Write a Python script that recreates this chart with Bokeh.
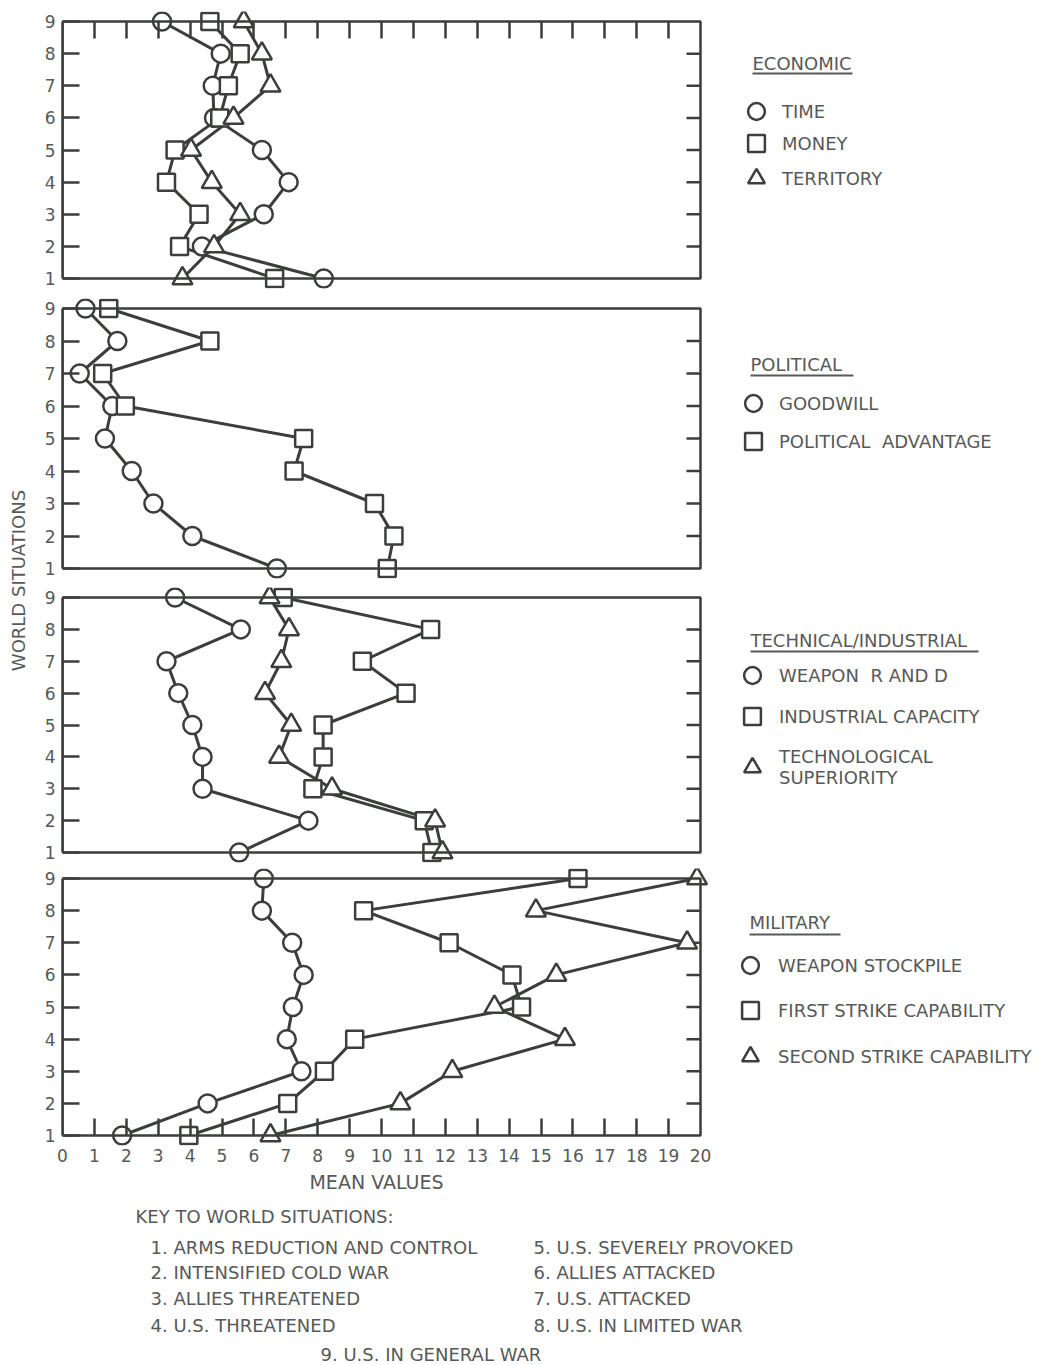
import math
from bokeh.plotting import figure
from bokeh.models import (Range1d, LinearAxis, FixedTicker, BoxAnnotation, Label,
                          Legend, LegendItem, Arrow)
from bokeh.layouts import row, column
from bokeh.embed import file_html
from bokeh.resources import INLINE

# ---------------- data (rows = world situations 1..9) ----------------
situations = [1, 2, 3, 4, 5, 6, 7, 8, 9]
x_ticks = list(range(0, 21))

econ_time = [8.19, 4.37, 6.31, 7.09, 6.25, 4.75, 4.71, 4.96, 3.12]
econ_money = [6.65, 3.67, 4.28, 3.26, 3.53, 4.93, 5.20, 5.57, 4.62]
econ_territory = [3.76, 4.75, 5.57, 4.68, 4.03, 5.36, 6.52, 6.25, 5.68]

pol_goodwill = [6.72, 4.07, 2.85, 2.17, 1.33, 1.56, 0.54, 1.72, 0.72]
pol_advantage = [10.18, 10.39, 9.78, 7.26, 7.56, 1.97, 1.26, 4.62, 1.45]

tech_weapon_rd = [5.54, 7.71, 4.39, 4.39, 4.07, 3.63, 3.26, 5.59, 3.53]
tech_industrial = [11.58, 11.34, 7.85, 8.17, 8.17, 10.77, 9.40, 11.54, 6.92]
tech_superiority = [11.91, 11.68, 8.45, 6.79, 7.17, 6.35, 6.86, 7.10, 6.49]

mil_stockpile = [1.87, 4.55, 7.49, 7.03, 7.22, 7.56, 7.20, 6.25, 6.31]
mil_first_strike = [3.96, 7.06, 8.21, 9.16, 14.39, 14.09, 12.12, 9.44, 16.16]
mil_second_strike = [6.52, 10.59, 12.22, 15.75, 13.54, 15.48, 19.58, 14.84, 19.89]

group_titles = ["ECONOMIC", "POLITICAL", "TECHNICAL/INDUSTRIAL", "MILITARY"]
econ_labels = ["TIME", "MONEY", "TERRITORY"]
pol_labels = ["GOODWILL", "POLITICAL  ADVANTAGE"]
tech_labels = ["WEAPON  R AND D", "INDUSTRIAL CAPACITY", "TECHNOLOGICAL\nSUPERIORITY"]
mil_labels = ["WEAPON STOCKPILE", "FIRST STRIKE CAPABILITY", "SECOND STRIKE CAPABILITY"]

key_title = "KEY TO WORLD SITUATIONS:"
situation_key = [
    "1. ARMS REDUCTION AND CONTROL",
    "2. INTENSIFIED COLD WAR",
    "3. ALLIES THREATENED",
    "4. U.S. THREATENED",
    "5. U.S. SEVERELY PROVOKED",
    "6. ALLIES ATTACKED",
    "7. U.S. ATTACKED",
    "8. U.S. IN LIMITED WAR",
    "9. U.S. IN GENERAL WAR",
]
x_title = "MEAN VALUES"
y_title = "WORLD SITUATIONS"

# ---------------- style / layout ----------------
INK = "#3b3e3b"
TXT = "#575957"
FONT = "DejaVu Sans"
LABEL_W = 30            # left strip holding the shared y title
FL = 62                 # page x of value 0 (frames of the column are aligned here)
PPX = 31.9              # px per unit on x
PAD = 10                # px padding above/below the drawn box
PAGE_R = 1038
PAGE_B = 1365
FRAME_W = PAGE_R - FL
XEND = FRAME_W / PPX
BORDER_L = FL - LABEL_W
FIG_W = BORDER_L + FRAME_W
RIGHT_TICK = 14 / PPX          # inward tick length at value 20, in value units
MARKERS = ["circle", "square", "triangle"]
MSIZE = {"circle": 18, "square": 17, "triangle": 20}
GW = 42

panels = [
    dict(series=[econ_time, econ_money, econ_territory], labels=econ_labels,
         title=group_titles[0], page_top=21, data_h=257, btop=11, bbot=5,
         title_pos=(752, 63, 73, 852),
         items=[(756, 111, 782), (756, 143, 782), (756, 178, 782)]),
    dict(series=[pol_goodwill, pol_advantage], labels=pol_labels,
         title=group_titles[1], page_top=308, data_h=260, btop=5, bbot=4,
         title_pos=(750, 364, 375, 853),
         items=[(753, 403, 779), (753, 441, 779)]),
    dict(series=[tech_weapon_rd, tech_industrial, tech_superiority], labels=tech_labels,
         title=group_titles[2], page_top=597, data_h=255, btop=5, bbot=3,
         title_pos=(750, 640, 651, 978),
         items=[(752, 675, 779), (752, 716, 779), (752, 767, 779)]),
    dict(series=[mil_stockpile, mil_first_strike, mil_second_strike], labels=mil_labels,
         title=group_titles[3], page_top=878, data_h=257, btop=3, bbot=25,
         title_pos=(749, 922, 934, 840),
         items=[(750, 965, 778), (750, 1010, 778), (750, 1056, 778)]),
]

figs = []
for k, pn in enumerate(panels):
    ppy = pn["data_h"] / 8.0
    padu = PAD / ppy
    frame_h = pn["data_h"] + 2 * PAD
    frame_top = pn["page_top"] - PAD
    frame_bot = frame_top + frame_h
    p = figure(frame_width=FRAME_W, frame_height=frame_h,
               x_range=Range1d(0, XEND), y_range=Range1d(1 - padu, 9 + padu),
               toolbar_location=None, output_backend="svg",
               x_axis_location=None, y_axis_location=None,
               min_border_left=BORDER_L, min_border_right=0,
               min_border_top=pn["btop"], min_border_bottom=pn["bbot"],
               outline_line_color=None, background_fill_color="white")
    p.grid.visible = False

    # drawn box
    p.add_layout(BoxAnnotation(left=0, right=20, bottom=1, top=9, fill_color=None,
                               line_color=INK, line_alpha=1.0, line_width=2.5))
    # left axis with inward ticks
    la = LinearAxis(ticker=FixedTicker(ticks=situations), bounds=(1, 9),
                    major_tick_in=17, major_tick_out=0,
                    minor_tick_line_color=None, axis_line_color=INK, axis_line_width=2.5,
                    major_tick_line_color=INK, major_tick_line_width=2.5,
                    major_label_standoff=7, major_label_text_font=FONT,
                    major_label_text_font_size="17px", major_label_text_color=TXT)
    p.add_layout(la, "left")
    # right-hand inward ticks at value 20
    inner = situations[1:-1]
    p.segment(x0=[20 - RIGHT_TICK] * len(inner), y0=inner, x1=[20] * len(inner), y1=inner,
              line_color=INK, line_width=2.5)
    if k == 0:
        ta = LinearAxis(ticker=FixedTicker(ticks=[], minor_ticks=x_ticks[1:-1]),
                        minor_tick_in=PAD + 17, minor_tick_out=-PAD,
                        axis_line_color=None, major_tick_line_color=None,
                        minor_tick_line_color=INK, minor_tick_line_width=2.5)
        p.add_layout(ta, "above")
    if k == 3:
        ba = LinearAxis(ticker=FixedTicker(ticks=x_ticks, minor_ticks=x_ticks[1:-1]),
                        bounds=(0, 20),
                        major_tick_in=0, major_tick_out=0, major_tick_line_color=None,
                        minor_tick_in=PAD + 17, minor_tick_out=-PAD,
                        minor_tick_line_color=INK, minor_tick_line_width=2.5,
                        axis_line_color=None,
                        major_label_standoff=3, major_label_text_font=FONT,
                        major_label_text_font_size="17px", major_label_text_color=TXT)
        p.add_layout(ba, "below")

    # series: lines first, then markers
    for vals in pn["series"]:
        p.line(vals, situations, line_color=INK, line_width=3)
    rends = []
    for vals, mk in zip(pn["series"], MARKERS):
        r = p.scatter(vals, situations, marker=mk, size=MSIZE[mk], fill_color="white",
                      line_color=INK, line_width=2.5)
        rends.append(r)

    # group title + underline
    tx, ty, uy, ux2 = pn["title_pos"]
    p.add_layout(Label(x=tx - FL, y=frame_bot - ty, x_units="screen", y_units="screen",
                       text=pn["title"], text_font=FONT, text_font_size="18px",
                       text_color=TXT, text_align="left", text_baseline="middle"))
    p.add_layout(Arrow(x_start=tx - FL, y_start=frame_bot - uy, x_end=ux2 - FL,
                       y_end=frame_bot - uy, start_units="screen", end_units="screen",
                       start=None, end=None, line_color=TXT, line_width=2))
    # legend entries
    for r, lab, (mx, my, txx) in zip(rends, pn["labels"], pn["items"]):
        leg = Legend(items=[LegendItem(label=lab, renderers=[r])],
                     location=(mx - GW / 2 - FL, frame_bot - (my + GW / 2)),
                     padding=0, margin=0, spacing=0, glyph_width=GW, glyph_height=GW,
                     label_height=GW, label_standoff=int(txx - mx - GW / 2),
                     border_line_color=None, background_fill_alpha=0,
                     label_text_font=FONT, label_text_font_size="18px",
                     label_text_color=TXT)
        p.add_layout(leg)
    p.align = "start"
    figs.append(p)

col_h = sum(pn["btop"] + pn["data_h"] + 2 * PAD + pn["bbot"] for pn in panels)
KEY_H = PAGE_B - col_h

# x title + key to world situations (own strip below the panels; frame aligned at FL)
key = figure(width=FIG_W, height=KEY_H, x_range=Range1d(0, 1), y_range=Range1d(0, 1),
             toolbar_location=None, output_backend="svg", min_border=0,
             x_axis_location=None, y_axis_location=None, outline_line_color=None)
key.grid.visible = False
key.align = "start"
key.add_layout(Label(x=376 - FL, y=PAGE_B - 1181, x_units="screen", y_units="screen",
                     text=x_title, text_font=FONT, text_font_size="19px",
                     text_color=TXT, text_align="center", text_baseline="middle"))
key.add_layout(Label(x=135 - FL, y=PAGE_B - 1216, x_units="screen", y_units="screen",
                     text=key_title, text_font=FONT, text_font_size="18px",
                     text_color=TXT, text_baseline="middle"))
rows_y = [1247, 1272, 1298, 1325]
for i, s in enumerate(situation_key):
    if i < 4:
        sx, sy = 150, rows_y[i]
    elif i < 8:
        sx, sy = 533, rows_y[i - 4]
    else:
        sx, sy = 320, 1354
    key.add_layout(Label(x=sx - FL, y=PAGE_B - sy, x_units="screen", y_units="screen",
                         text=s, text_font=FONT, text_font_size="18px",
                         text_color=TXT, text_baseline="middle"))

lab = figure(width=LABEL_W, height=PAGE_B, x_range=Range1d(0, 1), y_range=Range1d(0, 1),
             toolbar_location=None, output_backend="svg", min_border=0,
             x_axis_location=None, y_axis_location=None, outline_line_color=None)
lab.grid.visible = False
lab.add_layout(Label(x=18, y=PAGE_B - 580, x_units="screen", y_units="screen",
                     text=y_title, angle=math.pi / 2, text_align="center",
                     text_baseline="middle", text_font=FONT, text_font_size="18px",
                     text_color=TXT))

layout = row(lab, column(*figs, key))
open("out.html", "w").write(file_html(layout, INLINE))
